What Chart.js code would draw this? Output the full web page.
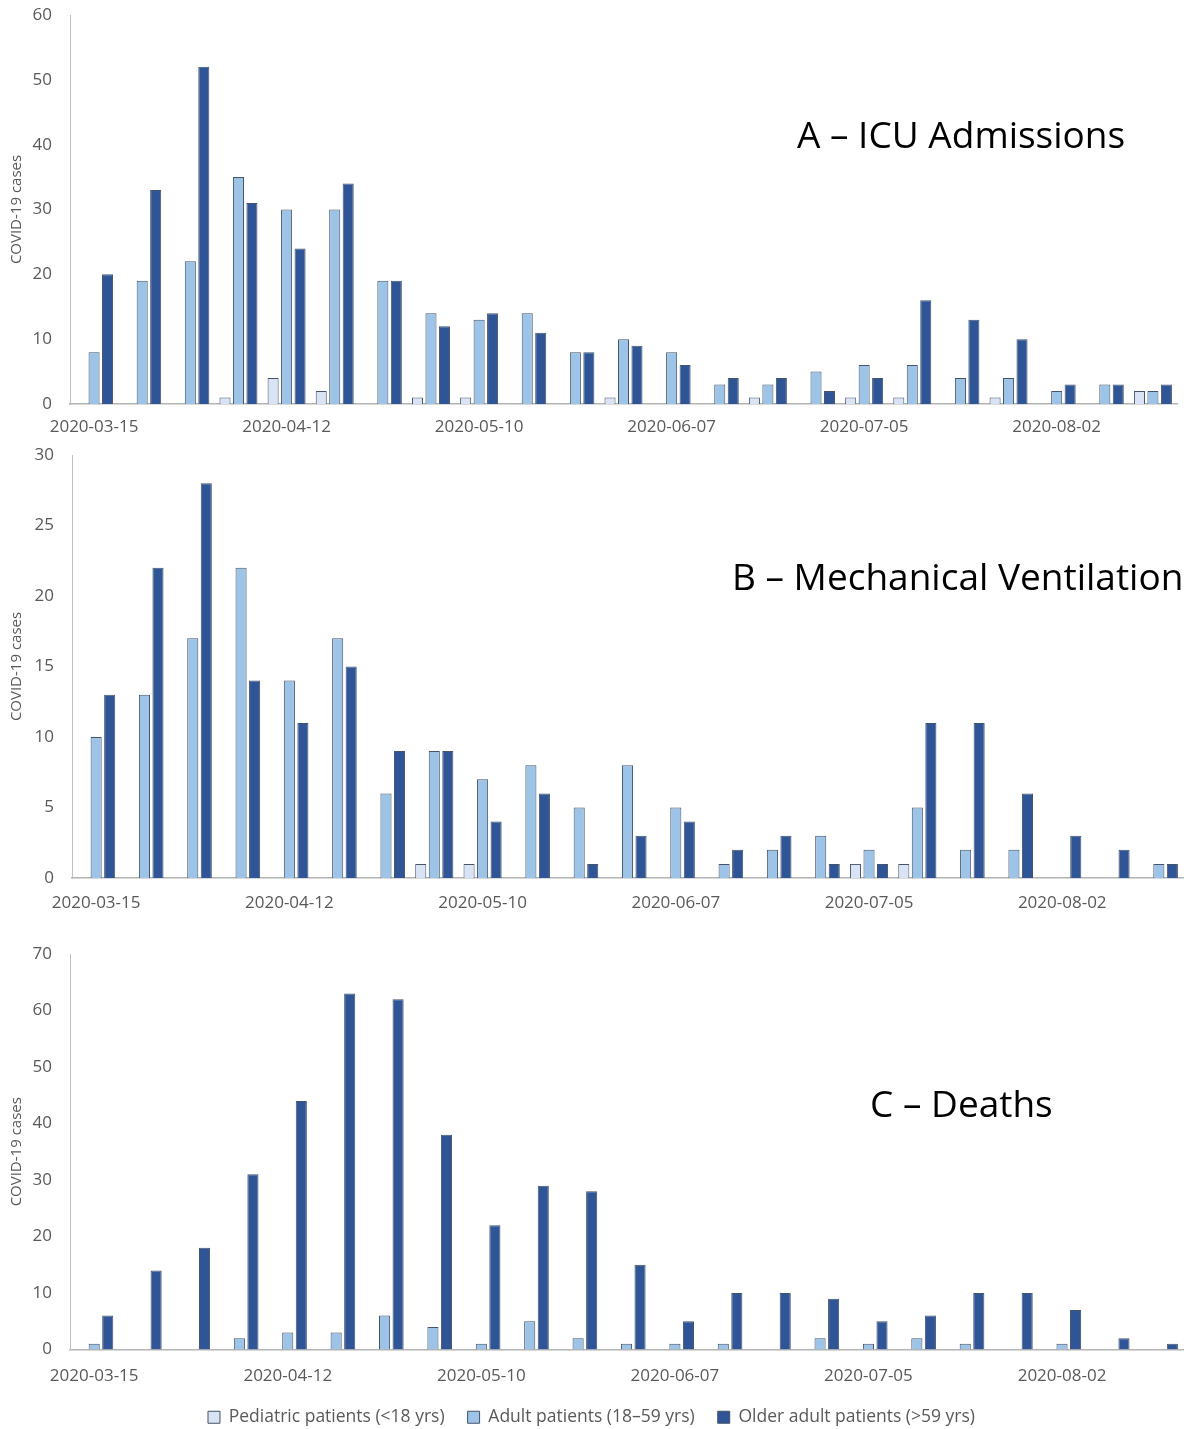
<!DOCTYPE html>
<html>
<head>
<meta charset="utf-8">
<title>COVID-19 cases by age group</title>
<script src="https://cdn.jsdelivr.net/npm/chart.js@4.4.1/dist/chart.umd.min.js"></script>
<style>
  html, body { margin: 0; padding: 0; background: #fff; overflow: hidden; }
  .panel { position: absolute; left: 0; width: 1191px; }
  #panel-icu { top: 0; height: 440px; }
  #panel-vent { top: 440px; height: 475px; }
  #panel-deaths { top: 935px; height: 501px; }
</style>
</head>
<body>
<div class="panel" id="panel-icu"><canvas id="icuChart"></canvas></div>
<div class="panel" id="panel-vent"><canvas id="ventChart"></canvas></div>
<div class="panel" id="panel-deaths"><canvas id="deathsChart"></canvas></div>
<script>
// weekly buckets (week start)
const weeks = [
  "2020-03-15", "2020-03-22", "2020-03-29", "2020-04-05", "2020-04-12", "2020-04-19",
  "2020-04-26", "2020-05-03", "2020-05-10", "2020-05-17", "2020-05-24", "2020-05-31",
  "2020-06-07", "2020-06-14", "2020-06-21", "2020-06-28", "2020-07-05", "2020-07-12",
  "2020-07-19", "2020-07-26", "2020-08-02", "2020-08-09", "2020-08-16",
];

const groupLabels = [
  "Pediatric patients (<18 yrs)",
  "Adult patients (18–59 yrs)",
  "Older adult patients (>59 yrs)",
];

// A - ICU admissions
const icuPediatric = [0, 0, 0, 1, 4, 2, 0, 1, 1, 0, 0, 1, 0, 0, 1, 0, 1, 1, 0, 1, 0, 0, 2];
const icuAdult = [8, 19, 22, 35, 30, 30, 19, 14, 13, 14, 8, 10, 8, 3, 3, 5, 6, 6, 4, 4, 2, 3, 2];
const icuOlder = [20, 33, 52, 31, 24, 34, 19, 12, 14, 11, 8, 9, 6, 4, 4, 2, 4, 16, 13, 10, 3, 3, 3];

// B - mechanical ventilation
const ventPediatric = [0, 0, 0, 0, 0, 0, 0, 1, 1, 0, 0, 0, 0, 0, 0, 0, 1, 1, 0, 0, 0, 0, 0];
const ventAdult = [10, 13, 17, 22, 14, 17, 6, 9, 7, 8, 5, 8, 5, 1, 2, 3, 2, 5, 2, 2, 0, 0, 1];
const ventOlder = [13, 22, 28, 14, 11, 15, 9, 9, 4, 6, 1, 3, 4, 2, 3, 1, 1, 11, 11, 6, 3, 2, 1];

// C - deaths
const deathsPediatric = [0, 0, 0, 0, 0, 0, 0, 0, 0, 0, 0, 0, 0, 0, 0, 0, 0, 0, 0, 0, 0, 0, 0];
const deathsAdult = [1, 0, 0, 2, 3, 3, 6, 4, 1, 5, 2, 1, 1, 1, 0, 2, 1, 2, 1, 0, 1, 0, 0];
const deathsOlder = [6, 14, 18, 31, 44, 63, 62, 38, 22, 29, 28, 15, 5, 10, 10, 9, 5, 6, 10, 10, 7, 2, 1];

const groupFills = ["#dae3f3", "#9dc3e6", "#2f5597"];
const barOutline = "#44546a";
const axisText = "#595959";

Chart.defaults.font.family = '"Open Sans", "DejaVu Sans", sans-serif';
Chart.defaults.color = axisText;

// big panel heading drawn inside the plot
const panelTitle = {
  id: "panelTitle",
  afterDraw(chart, args, opts) {
    if (!opts.text) return;
    const { ctx } = chart;
    ctx.save();
    ctx.font = '37px "Open Sans", sans-serif';
    ctx.fillStyle = "#000";
    ctx.textBaseline = "alphabetic";
    ctx.textAlign = "left";
    ctx.fillText(opts.text, opts.x, opts.y);
    ctx.restore();
  },
};

function mountPanel(canvasId, series, cfg) {
  return new Chart(document.getElementById(canvasId), {
    type: "bar",
    data: {
      labels: weeks,
      datasets: series.map((values, i) => ({
        label: groupLabels[i],
        data: values,
        backgroundColor: groupFills[i],
        borderColor: barOutline,
        borderWidth: 1,
        categoryPercentage: 0.84,
        barPercentage: 0.82,
      })),
    },
    options: {
      responsive: true,
      maintainAspectRatio: false,
      animation: false,
      layout: { padding: { top: cfg.padTop, right: cfg.padRight, left: 0, bottom: 0 } },
      plugins: {
        legend: cfg.legend
          ? {
              position: "bottom",
              labels: {
                boxWidth: 12,
                boxHeight: 12,
                padding: 23,
                color: axisText,
                font: { size: 17.5 },
              },
            }
          : { display: false },
        tooltip: { enabled: false },
        panelTitle: cfg.title,
      },
      scales: {
        x: {
          grid: { display: false, drawTicks: false },
          border: { color: "#b4b4b4", width: 1.5 },
          ticks: {
            autoSkip: false,
            maxRotation: 0,
            padding: cfg.xPad,
            color: axisText,
            font: { size: 17 },
            callback(value, index) {
              return index % 4 === 0 ? this.getLabelForValue(value) : "";
            },
          },
          afterFit(scale) {
            scale.height = cfg.xHeight;
          },
        },
        y: {
          min: 0,
          max: cfg.yMax,
          grid: { display: false, drawTicks: false },
          border: { color: "#bfbfbf", width: 1 },
          ticks: { stepSize: cfg.yStep, padding: 18, color: axisText, font: { size: 17 } },
          title: {
            display: true,
            text: "COVID-19 cases",
            color: axisText,
            font: { size: 15 },
            padding: { top: 8, bottom: 0 },
          },
          afterFit(scale) {
            // fixed axis width; the top/bottom room is set by layout padding
            scale.width = cfg.yWidth;
            scale.paddingTop = 0;
            scale.paddingBottom = 0;
          },
        },
      },
    },
    plugins: [panelTitle],
  });
}

mountPanel("icuChart", [icuPediatric, icuAdult, icuOlder], {
  yMax: 60, yStep: 10, yWidth: 70, padTop: 15, padRight: 14, xHeight: 36, xPad: 13,
  title: { text: "A – ICU Admissions", x: 797, y: 148 },
});

mountPanel("ventChart", [ventPediatric, ventAdult, ventOlder], {
  yMax: 30, yStep: 5, yWidth: 72, padTop: 15, padRight: 8, xHeight: 37, xPad: 15,
  title: { text: "B – Mechanical Ventilation", x: 732, y: 150 },
});

mountPanel("deathsChart", [deathsPediatric, deathsAdult, deathsOlder], {
  yMax: 70, yStep: 10, yWidth: 70, padTop: 19, padRight: 8, xHeight: 36, xPad: 16,
  legend: true,
  title: { text: "C – Deaths", x: 870, y: 182 },
});
</script>
</body>
</html>
